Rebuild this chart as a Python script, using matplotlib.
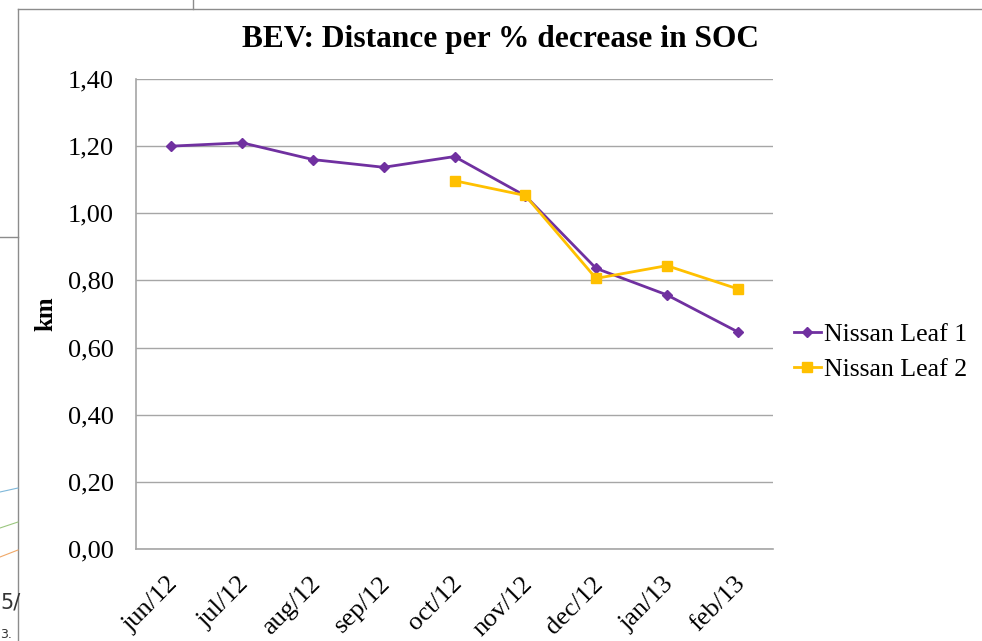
import matplotlib
matplotlib.use("Agg")
from matplotlib import pyplot as plt
from matplotlib.lines import Line2D
from matplotlib.transforms import ScaledTranslation

months = ["jun/12", "jul/12", "aug/12", "sep/12", "oct/12", "nov/12", "dec/12", "jan/13", "feb/13"]
leaf1 = [1.20, 1.21, 1.16, 1.137, 1.169, 1.052, 0.836, 0.757, 0.647]
leaf2_months = ["oct/12", "nov/12", "dec/12", "jan/13", "feb/13"]
leaf2 = [1.097, 1.053, 0.806, 0.844, 0.775]
yticks = [0.0, 0.2, 0.4, 0.6, 0.8, 1.0, 1.2, 1.4]

purple = "#7030A0"
gold = "#FFC000"
grid_col = "#A6A6A6"

plt.rcParams["font.family"] = ["Liberation Serif", "DejaVu Serif"]

fig = plt.figure(figsize=(9.82, 6.41), dpi=100)

# leftovers of the screenshot around the chart frame
fig.add_artist(Line2D([18/982, 1], [1 - 9/641, 1 - 9/641], color="#8C8C8C", lw=1))
fig.add_artist(Line2D([18/982, 18/982], [0, 1 - 9/641], color="#8C8C8C", lw=1))
fig.add_artist(Line2D([193/982, 193/982], [1 - 9/641, 1], color="#8C8C8C", lw=1))
fig.add_artist(Line2D([0, 18/982], [1 - 237/641, 1 - 237/641], color="#8C8C8C", lw=1))
fig.add_artist(Line2D([0, 18/982], [1 - 492/641, 1 - 488/641], color="#7FB8DA", lw=0.8))
fig.add_artist(Line2D([0, 18/982], [1 - 528/641, 1 - 522/641], color="#9BC77F", lw=0.8))
fig.add_artist(Line2D([0, 18/982], [1 - 557/641, 1 - 550/641], color="#F0A868", lw=0.8))
fig.text(0, 1 - 603/641, "5/", fontsize=15, family="DejaVu Sans", va="center", color="#333333")
fig.text(0, 1 - 634/641, "3.", fontsize=9, family="DejaVu Sans", va="center", color="#333333")

ax = fig.add_axes([136/982, 1 - 549/641, (773 - 136)/982, (549 - 79)/641])

x1 = list(range(len(months)))
x2 = [months.index(m) for m in leaf2_months]
ax.plot(x1, leaf1, "-D", color=purple, lw=2, markersize=5.5, label="Nissan Leaf 1")
ax.plot(x2, leaf2, "-s", color=gold, lw=2, markersize=7.5, label="Nissan Leaf 2")

ax.set_xlim(-0.5, len(months) - 0.5)
ax.set_ylim(0, 1.4)
ax.set_yticks(yticks)
ax.set_yticklabels([("%.2f" % v).replace(".", ",") for v in yticks])
ax.set_xticks(x1)
ax.set_xticklabels(months, rotation=45, ha="right", rotation_mode="anchor")
ax.tick_params(axis="both", length=0, labelsize=19)
ax.tick_params(axis="y", pad=16)
ax.tick_params(axis="x", pad=17)
shift = ScaledTranslation(-4/100, 0, fig.dpi_scale_trans)
for lab in ax.get_xticklabels():
    lab.set_transform(lab.get_transform() + shift)
ax.grid(axis="y", color=grid_col, lw=1)
ax.set_axisbelow(True)
for s in ["top", "right"]:
    ax.spines[s].set_visible(False)
for s in ["left", "bottom"]:
    ax.spines[s].set_color(grid_col)
    ax.spines[s].set_linewidth(1.2)

ax.set_ylabel("km", fontsize=18, fontweight="bold")
ax.yaxis.set_label_coords(-0.124, 0.5)
fig.text(500/982, 1 - 39/641, "BEV: Distance per % decrease in SOC", fontsize=22.6,
         fontweight="bold", ha="center", va="center")

ax.legend(loc="center left", bbox_to_anchor=((794 - 136)/637, (549 - 352)/470), frameon=False,
          fontsize=18.5, handlelength=1.05, handletextpad=0.12, labelspacing=0.45,
          borderpad=0, borderaxespad=0)

fig.savefig("out.png", dpi=100)
